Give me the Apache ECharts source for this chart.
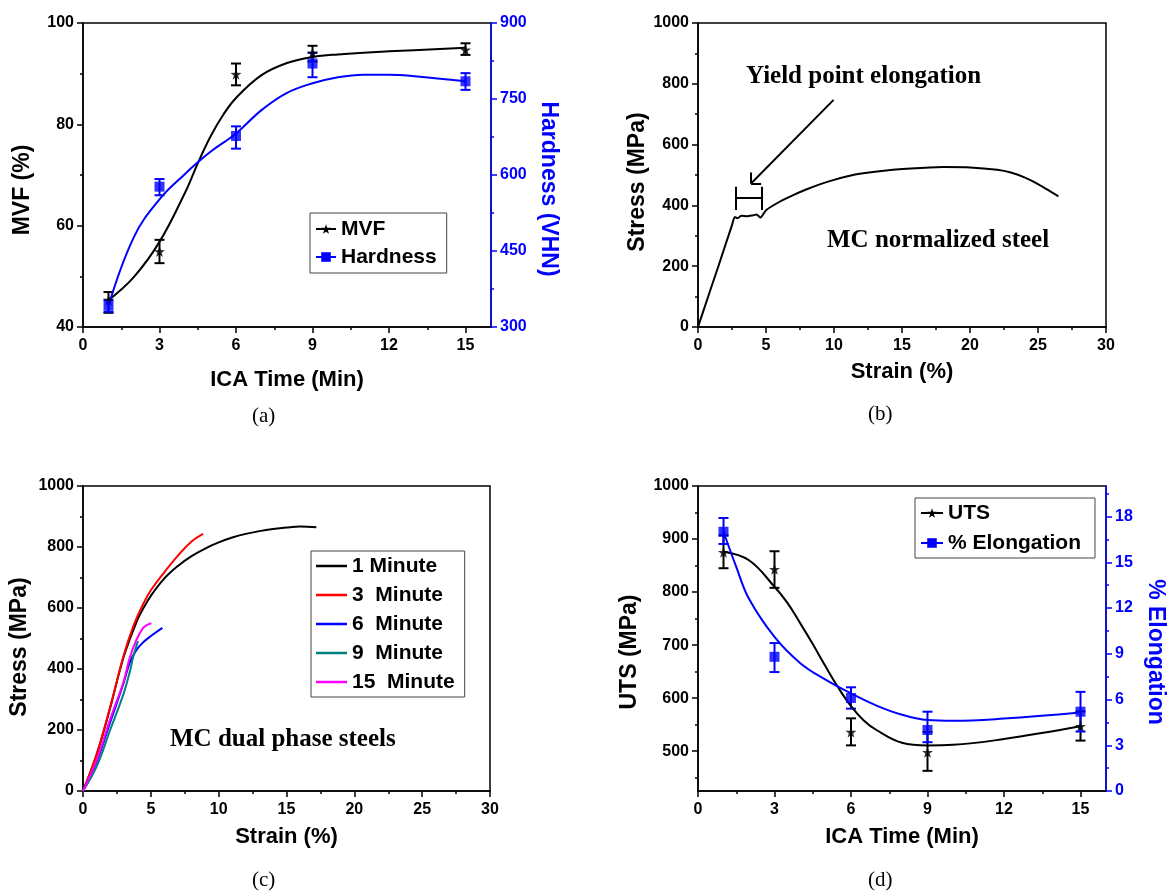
<!DOCTYPE html>
<html>
<head>
<meta charset="utf-8">
<script src="https://cdn.jsdelivr.net/npm/echarts@6/dist/echarts.min.js"></script>
<style>
  html, body { margin: 0; padding: 0; background: #fff; }
  #chart { width: 1171px; height: 896px; }
</style>
</head>
<body>
<div id="chart"></div>
<script>
// ---- data ----
// (a) MVF and hardness vs ICA time
const icaTime = [1, 3, 6, 9, 15];
const mvf = [45.3, 54.9, 89.9, 94.1, 94.7];
const mvfLow = [42.8, 52.6, 87.7, 92.4, 93.7];
const mvfHigh = [46.9, 57.2, 92.0, 95.5, 96.0];
const hardness = [342, 577, 677, 820, 785];
const hardnessLow = [330, 560, 652, 793, 768];
const hardnessHigh = [353, 592, 696, 841, 801];
const mvfFitX = [1, 2, 3, 4, 4.5, 5, 5.5, 6, 7, 8, 9, 10, 12, 15];
const mvfFitY = [45.3, 49.9, 56.8, 66.5, 72.3, 77.6, 81.9, 85.2, 89.7, 92.1, 93.3, 93.8, 94.4, 95.1];
const hardFitX = [1, 2, 3, 4, 4.5, 5, 6, 7, 8, 9, 10, 11, 12, 13, 15];
const hardFitY = [342, 478, 552, 602, 625, 646, 682, 728, 762, 781, 793, 798, 798, 795, 785];

// (b) MC normalized steel stress-strain
const normStrain = [0, 0.5, 1, 1.5, 2, 2.5, 2.7, 2.9, 3.2, 3.6, 4.0, 4.3, 4.6, 5, 6, 7, 8, 9, 10, 11, 12, 14, 16, 18, 20, 22, 23, 24, 25, 26.5];
const normStress = [0, 67, 134, 200, 268, 335, 362, 358, 366, 364, 367, 370, 360, 384, 412, 434, 453, 470, 484, 496, 505, 516, 522, 526, 525, 517, 508, 492, 470, 430];

// (c) dual phase steels stress-strain
const dp1Strain = [0, 1, 2, 3, 4, 4.5, 5, 6, 7, 8, 9, 10, 11, 12, 13, 14, 15, 16, 17.2];
const dp1Stress = [0, 118, 272, 440, 560, 603, 640, 697, 738, 770, 795, 815, 831, 843, 852, 859, 864, 867, 865];
const dp3Strain = [0, 1, 2, 3, 3.7, 4.4, 5, 6, 7, 8, 8.85];
const dp3Stress = [0, 120, 275, 445, 539, 610, 658, 718, 772, 818, 843];
const dp6Strain = [0, 1, 2, 3, 3.44, 3.93, 4.5, 5, 5.85];
const dp6Stress = [0, 95, 225, 355, 420, 462, 490, 508, 535];
const dp9Strain = [0, 1, 2, 3, 3.5, 3.7, 4.05];
const dp9Stress = [0, 80, 200, 320, 400, 440, 492];
const dp15Strain = [0, 1, 2, 3, 3.44, 3.93, 4.42, 4.7, 5.04];
const dp15Stress = [0, 100, 235, 360, 436, 495, 534, 544, 550];

// (d) UTS and elongation vs ICA time
const uts = [875, 843, 536, 498, 547];
const utsLow = [845, 808, 511, 463, 520];
const utsHigh = [907, 877, 562, 536, 575];
const elong = [17.0, 8.8, 6.1, 4.0, 5.2];
const elongLow = [16.2, 7.8, 5.4, 3.2, 3.9];
const elongHigh = [17.9, 9.7, 6.8, 5.2, 6.5];
const utsFitX = [1, 2, 3, 3.5, 4, 4.5, 5, 5.5, 6, 6.5, 7, 8, 9, 10, 12, 15];
const utsFitY = [876, 860, 810, 780, 742, 702, 660, 620, 585, 558, 540, 516, 511, 512, 523, 547];
const elongFitX = [1, 1.5, 2, 3, 4, 5, 6, 7, 8, 9, 10, 12, 15];
const elongFitY = [17.0, 14.7, 12.6, 10.1, 8.4, 7.3, 6.4, 5.6, 5.0, 4.65, 4.6, 4.75, 5.15];

// tick labels
const timeTicks = [0, 3, 6, 9, 12, 15];
const timeMinor = [1.5, 4.5, 7.5, 10.5, 13.5];
const mvfTicks = [40, 60, 80, 100];
const mvfMinor = [50, 70, 90];
const hardTicks = [300, 450, 600, 750, 900];
const hardMinor = [375, 525, 675, 825];
const strainTicks = [0, 5, 10, 15, 20, 25, 30];
const strainMinor = [2.5, 7.5, 12.5, 17.5, 22.5, 27.5];
const stressTicks = [0, 200, 400, 600, 800, 1000];
const stressMinor = [100, 300, 500, 700, 900];
const utsTicks = [500, 600, 700, 800, 900, 1000];
const utsMinor = [450, 550, 650, 750, 850, 950];
const elongTicks = [0, 3, 6, 9, 12, 15, 18];
const elongMinor = [1.5, 4.5, 7.5, 10.5, 13.5, 16.5, 19.5];

// ---- styling ----
const FONT = '"Liberation Sans", Arial, sans-serif';
const SERIF = '"Liberation Serif", "Times New Roman", serif';
const BLUE = '#0000ff';
const STAR = 'path://M0,-10 L2.35,-3.24 L9.51,-3.09 L3.8,1.24 L5.88,8.09 L0,4 L-5.88,8.09 L-3.8,1.24 L-9.51,-3.09 L-2.35,-3.24 Z';

const chart = echarts.init(document.getElementById('chart'));

const xAxes = [];
const yAxes = [];

// main axis + a second one carrying only the short minor ticks
function addAxis(list, c) {
    const color = c.color || '#000';
    list.push({
        type: 'value', gridIndex: c.grid, position: c.pos, min: c.min, max: c.max,
        axisLine: { show: true, onZero: false, lineStyle: { color: color, width: 1.5 } },
        axisTick: { show: true, length: 6, customValues: c.major, lineStyle: { color: color, width: 1.5 } },
        axisLabel: {
            show: true, customValues: c.major, color: color, fontSize: 16, fontWeight: 'bold', fontFamily: FONT,
            margin: c.margin, formatter: v => String(v)
        },
        splitLine: { show: false },
        name: c.name, nameLocation: 'middle', nameGap: c.gap, nameRotate: c.rotate,
        nameTextStyle: { color: color, fontSize: c.nameSize, fontWeight: 'bold', fontFamily: FONT, padding: c.pad || 0 }
    });
    list.push({
        type: 'value', gridIndex: c.grid, position: c.pos, min: c.min, max: c.max,
        axisLine: { show: false, onZero: false },
        axisTick: { show: true, length: 3, customValues: c.minor, lineStyle: { color: color, width: 1.5 } },
        axisLabel: { show: false },
        splitLine: { show: false }
    });
    return list.length - 2;
}

// grid 0: (a)
const ax0 = addAxis(xAxes, { grid: 0, pos: 'bottom', min: 0, max: 16, major: timeTicks, minor: timeMinor, margin: 11,
    name: 'ICA Time (Min)', gap: 42, nameSize: 22 });
const ay0 = addAxis(yAxes, { grid: 0, pos: 'left', min: 40, max: 100, major: mvfTicks, minor: mvfMinor, margin: 9,
    name: 'MVF (%)', gap: 49, nameSize: 23, rotate: 90, pad: [0, 30, 0, 0] });
const ay0r = addAxis(yAxes, { grid: 0, pos: 'right', min: 300, max: 900, major: hardTicks, minor: hardMinor, margin: 9,
    color: BLUE, name: 'Hardness (VHN)', gap: 46, nameSize: 23, rotate: -90, pad: [0, 0, 0, 28] });
// grid 1: (b)
const ax1 = addAxis(xAxes, { grid: 1, pos: 'bottom', min: 0, max: 30, major: strainTicks, minor: strainMinor, margin: 11,
    name: 'Strain (%)', gap: 34, nameSize: 22 });
const ay1 = addAxis(yAxes, { grid: 1, pos: 'left', min: 0, max: 1000, major: stressTicks, minor: stressMinor, margin: 9,
    name: 'Stress (MPa)', gap: 48, nameSize: 23, rotate: 90, pad: [0, 14, 0, 0] });
// grid 2: (c)
const ax2 = addAxis(xAxes, { grid: 2, pos: 'bottom', min: 0, max: 30, major: strainTicks, minor: strainMinor, margin: 11,
    name: 'Strain (%)', gap: 35, nameSize: 22 });
const ay2 = addAxis(yAxes, { grid: 2, pos: 'left', min: 0, max: 1000, major: stressTicks, minor: stressMinor, margin: 9,
    name: 'Stress (MPa)', gap: 52, nameSize: 23, rotate: 90, pad: [0, 17, 0, 0] });
// grid 3: (d)
const ax3 = addAxis(xAxes, { grid: 3, pos: 'bottom', min: 0, max: 16, major: timeTicks, minor: timeMinor, margin: 11,
    name: 'ICA Time (Min)', gap: 35, nameSize: 22 });
const ay3 = addAxis(yAxes, { grid: 3, pos: 'left', min: 425, max: 1000, major: utsTicks, minor: utsMinor, margin: 9,
    name: 'UTS (MPa)', gap: 57, nameSize: 23, rotate: 90, pad: [0, 27, 0, 0] });
const ay3r = addAxis(yAxes, { grid: 3, pos: 'right', min: 0, max: 20, major: elongTicks, minor: elongMinor, margin: 9,
    color: BLUE, name: '% Elongation', gap: 38, nameSize: 23, rotate: -90, pad: [0, 0, 0, 27] });

function pairs(xs, ys) {
    return xs.map((x, i) => [x, ys[i]]);
}

function errorBars(xs, lows, highs, color, xi, yi) {
    return {
        type: 'custom', xAxisIndex: xi, yAxisIndex: yi, z: 3, silent: true,
        data: xs.map((x, i) => [x, lows[i], highs[i]]),
        encode: { x: 0, y: [1, 2] },
        renderItem: function (params, api) {
            const lo = api.coord([api.value(0), api.value(1)]);
            const hi = api.coord([api.value(0), api.value(2)]);
            const w = 5;
            const style = { stroke: color, lineWidth: 2 };
            return {
                type: 'group',
                children: [
                    { type: 'line', shape: { x1: lo[0], y1: lo[1], x2: hi[0], y2: hi[1] }, style: style },
                    { type: 'line', shape: { x1: lo[0] - w, y1: lo[1], x2: lo[0] + w, y2: lo[1] }, style: style },
                    { type: 'line', shape: { x1: hi[0] - w, y1: hi[1], x2: hi[0] + w, y2: hi[1] }, style: style }
                ]
            };
        }
    };
}

function fitLine(name, xs, ys, color, symbol, xi, yi) {
    return {
        name: name, type: 'line', xAxisIndex: xi, yAxisIndex: yi,
        data: pairs(xs, ys), smooth: 0.4, symbol: symbol, symbolSize: 10, showSymbol: false,
        lineStyle: { color: color, width: 2 }, itemStyle: { color: color }
    };
}

function points(xs, ys, color, symbol, size, xi, yi) {
    return {
        type: 'scatter', xAxisIndex: xi, yAxisIndex: yi, z: 4,
        data: pairs(xs, ys), symbol: symbol, symbolSize: size,
        itemStyle: { color: color }
    };
}

function curve(name, xs, ys, color, xi, yi) {
    return {
        name: name, type: 'line', xAxisIndex: xi, yAxisIndex: yi,
        data: pairs(xs, ys), smooth: 0.4, symbol: 'none',
        lineStyle: { color: color, width: 2 }, itemStyle: { color: color }
    };
}

function seg(a, b) {
    return [{ coord: a }, { coord: b }];
}

const dpNames = ['1 Minute', '3  Minute', '6  Minute', '9  Minute', '15  Minute'];

const legendText = { fontSize: 21, fontWeight: 'bold', fontFamily: FONT, color: '#000', lineHeight: 24 };
const legendBox = { orient: 'vertical', borderColor: '#444', borderWidth: 1, backgroundColor: '#fff', textStyle: legendText, itemHeight: 12 };

const option = {
    animation: false,
    grid: [
        { left: 83, top: 23, width: 408, height: 304, show: true, borderColor: '#000', borderWidth: 1.5, backgroundColor: 'transparent' },
        { left: 698, top: 23, width: 408, height: 304, show: true, borderColor: '#000', borderWidth: 1.5, backgroundColor: 'transparent' },
        { left: 83, top: 486, width: 407, height: 305, show: true, borderColor: '#000', borderWidth: 1.5, backgroundColor: 'transparent' },
        { left: 698, top: 486, width: 408, height: 305, show: true, borderColor: '#000', borderWidth: 1.5, backgroundColor: 'transparent' }
    ],
    xAxis: xAxes,
    yAxis: yAxes,
    legend: [
        Object.assign({}, legendBox, { left: 310, top: 213, padding: [4, 10, 4, 5], itemGap: 4, itemWidth: 20, data: ['MVF', 'Hardness'] }),
        Object.assign({}, legendBox, { left: 311, top: 551, padding: [3, 10, 3, 5], itemGap: 5, itemWidth: 31, itemHeight: 2.5,
            data: dpNames.map(n => ({ name: n, icon: 'rect' })) }),
        Object.assign({}, legendBox, { left: 915, top: 498, padding: [3, 14, 3, 5], itemGap: 6, itemWidth: 22, data: ['UTS', '% Elongation'] })
    ],
    graphic: [
        { type: 'text', left: 746, top: 64, style: { text: 'Yield point elongation', font: 'bold 25px ' + SERIF, fill: '#000' } },
        { type: 'text', left: 827, top: 228, style: { text: 'MC normalized steel', font: 'bold 25px ' + SERIF, fill: '#000' } },
        { type: 'text', left: 170, top: 727, style: { text: 'MC dual phase steels', font: 'bold 25px ' + SERIF, fill: '#000' } },
        { type: 'text', left: 252, top: 406, style: { text: '(a)', font: '21px ' + SERIF, fill: '#000' } },
        { type: 'text', left: 868, top: 404, style: { text: '(b)', font: '21px ' + SERIF, fill: '#000' } },
        { type: 'text', left: 252, top: 870, style: { text: '(c)', font: '21px ' + SERIF, fill: '#000' } },
        { type: 'text', left: 868, top: 870, style: { text: '(d)', font: '21px ' + SERIF, fill: '#000' } }
    ],
    series: [
        // (a)
        fitLine('MVF', mvfFitX, mvfFitY, '#000', STAR, ax0, ay0),
        fitLine('Hardness', hardFitX, hardFitY, BLUE, 'rect', ax0, ay0r),
        errorBars(icaTime, mvfLow, mvfHigh, '#000', ax0, ay0),
        errorBars(icaTime, hardnessLow, hardnessHigh, BLUE, ax0, ay0r),
        points(icaTime, mvf, '#000', STAR, 11, ax0, ay0),
        points(icaTime, hardness, BLUE, 'rect', 10, ax0, ay0r),
        // (b)
        {
            type: 'line', xAxisIndex: ax1, yAxisIndex: ay1, data: pairs(normStrain, normStress),
            smooth: 0.2, symbol: 'none', lineStyle: { color: '#000', width: 2 },
            markLine: {
                silent: true, symbol: ['none', 'none'], label: { show: false },
                lineStyle: { color: '#000', width: 2, type: 'solid' },
                data: [
                    seg([9.97, 747], [3.9, 472]),
                    seg([3.9, 472], [3.9, 508]),
                    seg([3.9, 472], [4.64, 472]),
                    seg([2.77, 385], [2.77, 461]),
                    seg([4.68, 385], [4.68, 461]),
                    seg([2.77, 424], [4.68, 424])
                ]
            }
        },
        // (c)
        curve(dpNames[0], dp1Strain, dp1Stress, '#000', ax2, ay2),
        curve(dpNames[1], dp3Strain, dp3Stress, '#ff0000', ax2, ay2),
        curve(dpNames[2], dp6Strain, dp6Stress, BLUE, ax2, ay2),
        curve(dpNames[3], dp9Strain, dp9Stress, '#008080', ax2, ay2),
        curve(dpNames[4], dp15Strain, dp15Stress, '#ff00ff', ax2, ay2),
        // (d)
        fitLine('UTS', utsFitX, utsFitY, '#000', STAR, ax3, ay3),
        fitLine('% Elongation', elongFitX, elongFitY, BLUE, 'rect', ax3, ay3r),
        errorBars(icaTime, utsLow, utsHigh, '#000', ax3, ay3),
        errorBars(icaTime, elongLow, elongHigh, BLUE, ax3, ay3r),
        points(icaTime, uts, '#000', STAR, 11, ax3, ay3),
        points(icaTime, elong, BLUE, 'rect', 10, ax3, ay3r)
    ]
};

chart.setOption(option);
</script>
</body>
</html>
